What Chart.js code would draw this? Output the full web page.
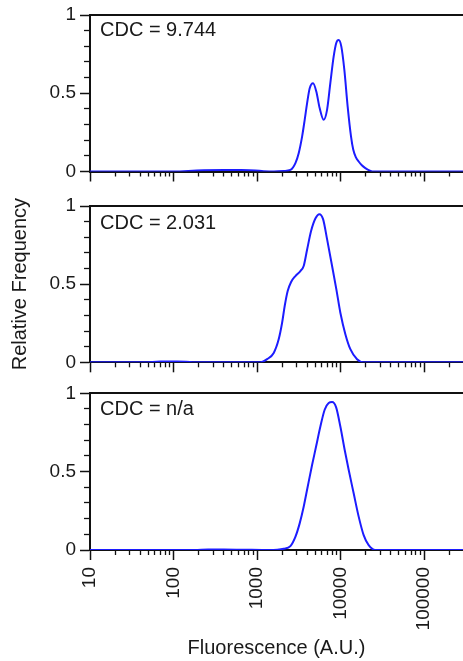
<!DOCTYPE html>
<html>
<head>
<meta charset="utf-8">
<title>Relative Frequency vs Fluorescence</title>
<script src="https://cdn.jsdelivr.net/npm/chart.js"></script>
<style>
  body { margin: 0; background: #fff; }
  #wrap { position: relative; width: 463px; height: 661px; overflow: hidden; font-family: "Liberation Sans", Arial, sans-serif; }
  canvas { position: absolute; left: 0; }
  .cdc { position: absolute; left: 100px; font-size: 20px; line-height: 20px; color: #1a1a1a; white-space: nowrap; }
</style>
</head>
<body>
<div id="wrap">
  <canvas id="p1" width="463" height="190" style="top:0px"></canvas>
  <canvas id="p2" width="463" height="190" style="top:190px"></canvas>
  <canvas id="p3" width="463" height="281" style="top:380px"></canvas>
  <div class="cdc" style="top:19px">CDC = 9.744</div>
  <div class="cdc" style="top:211.5px">CDC = 2.031</div>
  <div class="cdc" style="top:398px">CDC = n/a</div>
</div>
<script>
// panel 1 (CDC = 9.744)
const fluor1 = [10, 110, 150, 230, 400, 650, 950, 1200, 1600, 2100, 2512, 2884, 3157, 3467, 3724, 3981, 4276, 4690, 5139, 5626, 6281, 6901, 7551, 8275, 8913, 9500, 10233, 11117, 12180, 13370, 14200, 15300, 16490, 18000, 19830, 22500, 24940, 300000];
const freq1 = [0, 0, 0.004, 0.008, 0.01, 0.009, 0.006, 0.002, 0, 0.003, 0.01, 0.054, 0.117, 0.223, 0.33, 0.437, 0.532, 0.564, 0.51, 0.405, 0.33, 0.394, 0.564, 0.734, 0.823, 0.84, 0.798, 0.649, 0.415, 0.223, 0.14, 0.09, 0.064, 0.04, 0.022, 0.006, 0, 0];

// panel 2 (CDC = 2.031)
const fluor2 = [10, 45, 70, 110, 170, 300, 700, 1098, 1321, 1585, 1818, 1998, 2146, 2330, 2560, 2881, 3307, 3622, 3977, 4441, 5000, 5583, 6183, 6902, 7925, 8918, 9958, 11430, 13120, 15780, 18930, 300000];
const freq2 = [0, 0, 0.005, 0.005, 0.001, 0, 0, 0, 0.02, 0.06, 0.147, 0.253, 0.36, 0.456, 0.514, 0.552, 0.584, 0.616, 0.72, 0.84, 0.92, 0.948, 0.916, 0.788, 0.616, 0.467, 0.317, 0.18, 0.084, 0.02, 0, 0];

// panel 3 (CDC = n/a)
const fluor3 = [10, 180, 260, 400, 650, 1400, 2087, 2511, 2881, 3244, 3622, 4045, 4565, 5097, 5739, 6461, 7215, 7925, 8845, 9958, 11210, 12520, 14370, 16500, 18930, 21730, 26130, 300000];
const freq3 = [0, 0, 0.003, 0.003, 0.002, 0, 0.008, 0.025, 0.084, 0.17, 0.276, 0.404, 0.542, 0.66, 0.788, 0.895, 0.938, 0.944, 0.912, 0.788, 0.64, 0.512, 0.362, 0.213, 0.095, 0.031, 0, 0];

const xMajorTicks = [10, 100, 1000, 10000, 100000];
const xTickLabels = ['10', '100', '1000', '10000', '100000'];
const xMinorTicks = [20, 30, 40, 50, 60, 70, 80, 90,
  200, 300, 400, 500, 600, 700, 800, 900,
  2000, 3000, 4000, 5000, 6000, 7000, 8000, 9000,
  20000, 30000, 40000, 50000, 60000, 70000, 80000, 90000,
  200000];
const yMajorTicks = [0, 0.5, 1];
const yTickLabels = ['0', '0.5', '1'];
const yMinorTicks = [0.1, 0.2, 0.3, 0.4, 0.6, 0.7, 0.8, 0.9];

Chart.defaults.font.family = "'Liberation Sans', Arial, sans-serif";
Chart.defaults.color = '#1a1a1a';

const ink = '#111';
const lineBlue = 'rgb(28, 28, 255)';

function noPad(s) {
  s.paddingTop = 0; s.paddingBottom = 0; s.paddingLeft = 0; s.paddingRight = 0;
}

function makePanel(id, xs, ys, padTop, axisH, last, middle) {
  const pts = xs.map((x, i) => ({x: x, y: ys[i]}));
  return new Chart(document.getElementById(id), {
    type: 'line',
    data: {
      datasets: [{
        data: pts,
        xAxisID: 'x',
        yAxisID: 'y',
        borderColor: lineBlue,
        borderWidth: 2,
        pointRadius: 0,
        fill: false,
        cubicInterpolationMode: 'monotone'
      }]
    },
    options: {
      responsive: false,
      animation: false,
      layout: { padding: { top: padTop, left: 0, right: 0, bottom: 0 } },
      plugins: { legend: { display: false }, tooltip: { enabled: false } },
      scales: {
        x: {
          type: 'logarithmic', position: 'bottom', min: 10, max: 293000, weight: 1,
          afterBuildTicks: s => { s.ticks = xMajorTicks.map(v => ({value: v})); },
          afterFit: s => { s.height = axisH; noPad(s); },
          grid: { drawOnChartArea: false, tickLength: 10, tickWidth: 1.5, tickColor: ink },
          border: { display: true, width: 2, color: ink },
          ticks: {
            display: last, autoSkip: false, maxRotation: 90, minRotation: 90, padding: 7,
            font: { size: 19 }, callback: (v, i) => xTickLabels[i]
          },
          title: { display: last, text: 'Fluorescence (A.U.)', font: { size: 20 }, padding: { top: 0, bottom: 1 } }
        },
        xMinor: {
          type: 'logarithmic', position: 'bottom', min: 10, max: 293000, weight: 0,
          afterBuildTicks: s => { s.ticks = xMinorTicks.map(v => ({value: v})); },
          afterFit: s => { s.height = 0; noPad(s); },
          grid: { drawOnChartArea: false, tickLength: 5, tickWidth: 1.3, tickColor: ink },
          border: { display: false },
          ticks: { display: false }
        },
        xTop: {
          type: 'linear', position: 'top',
          afterFit: s => { s.height = 0; noPad(s); },
          grid: { display: false },
          border: { display: true, width: 2, color: ink },
          ticks: { display: false }
        },
        y: {
          type: 'linear', position: 'left', min: 0, max: 1, weight: 1,
          afterBuildTicks: s => { s.ticks = yMajorTicks.map(v => ({value: v})); },
          afterFit: s => { s.width = 90; noPad(s); },
          grid: { drawOnChartArea: false, tickLength: 10, tickWidth: 1.5, tickColor: ink },
          border: { display: true, width: 2, color: ink },
          ticks: { padding: 4, font: { size: 19 }, callback: (v, i) => yTickLabels[i] },
          title: { display: middle, text: 'Relative Frequency', font: { size: 20 }, padding: { top: 8, bottom: 0 } }
        },
        yMinor: {
          type: 'linear', position: 'left', min: 0, max: 1, weight: 0,
          afterBuildTicks: s => { s.ticks = yMinorTicks.map(v => ({value: v})); },
          afterFit: s => { s.width = 0; noPad(s); },
          grid: { drawOnChartArea: false, tickLength: 6, tickWidth: 1.3, tickColor: ink },
          border: { display: false },
          ticks: { display: false }
        }
      }
    }
  });
}

makePanel('p1', fluor1, freq1, 15, 18.5, false, false);
makePanel('p2', fluor2, freq2, 16, 17.7, false, true);
makePanel('p3', fluor3, freq3, 13.3, 111, true, false);
</script>
</body>
</html>
